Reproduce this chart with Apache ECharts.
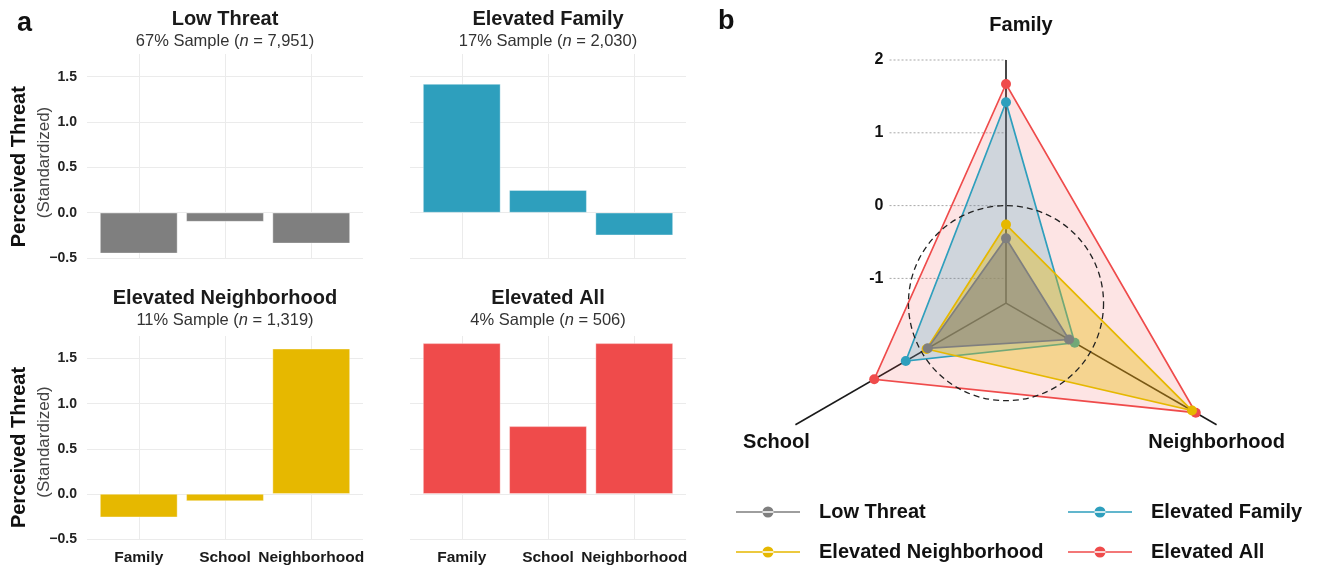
<!DOCTYPE html>
<html>
<head>
<meta charset="utf-8">
<script src="https://cdn.jsdelivr.net/npm/echarts@6/dist/echarts.min.js"></script>
<style>
  html, body { margin: 0; padding: 0; background: #ffffff; }
  #chart { width: 1317px; height: 568px; }
</style>
</head>
<body>
<div id="chart"></div>
<script>
// Threat domains and latent profiles
const domains = ['Family', 'School', 'Neighborhood'];
const profiles = ['Low Threat', 'Elevated Family', 'Elevated Neighborhood', 'Elevated All'];

// Standardized perceived threat per domain (Family, School, Neighborhood)
const lowThreat = [-0.45, -0.10, -0.34];
const elevatedFamily = [1.42, 0.25, -0.25];
const elevatedNeighborhood = [-0.26, -0.08, 1.61];
const elevatedAll = [1.67, 0.75, 1.67];

// Profile sizes
const samplePct = ['67%', '17%', '11%', '4%'];
const sampleN = ['7,951', '2,030', '1,319', '506'];

// Axis ticks
const barTicks = [-0.5, 0, 0.5, 1, 1.5];
const radarTicks = [-1, 0, 1, 2];

const profileValues = [lowThreat, elevatedFamily, elevatedNeighborhood, elevatedAll];
const colors = ['#7f7f7f', '#2e9fbd', '#e6b800', '#ef4b4b'];
const fillAlpha = [0.55, 0.22, 0.37, 0.15];
const FONT = '"Liberation Sans", Arial, Helvetica, sans-serif';

function rgba(hex, a) {
  const n = parseInt(hex.slice(1), 16);
  return `rgba(${(n >> 16) & 255},${(n >> 8) & 255},${n & 255},${a})`;
}

// ---- panel a: faceted bar charts ----
const barGrids = [
  { left: 87, top: 54, width: 276, height: 204 },
  { left: 410, top: 54, width: 276, height: 204 },
  { left: 87, top: 336, width: 276, height: 203 },
  { left: 410, top: 336, width: 276, height: 203 }
];
const catMin = 0.4, catMax = 3.6;
const fmtTick = v => (v < 0 ? '\u2212' + Math.abs(v).toFixed(1) : v.toFixed(1));

const grids = barGrids.map(g => Object.assign({ containLabel: false }, g));
const xAxes = [];
const yAxes = [];
const series = [];

barGrids.forEach((g, k) => {
  const bottomRow = k >= 2;
  const leftCol = k % 2 === 0;
  xAxes.push({
    gridIndex: k, type: 'value', min: catMin, max: catMax,
    axisLine: { show: false },
    axisTick: { show: true, length: 5, customValues: [1, 2, 3], lineStyle: { color: '#ebebeb', width: 1 } },
    axisLabel: {
      show: bottomRow, customValues: [1, 2, 3], margin: 11,
      formatter: v => domains[Math.round(v) - 1] || '',
      fontFamily: FONT, fontWeight: 'bold', fontSize: 15.5, color: '#1a1a1a'
    },
    splitLine: { show: true, lineStyle: { color: '#ebebeb', width: 1 } }
  });
  yAxes.push({
    gridIndex: k, type: 'value', min: -0.5, max: 1.75,
    axisLine: { show: false },
    axisTick: { show: false, customValues: barTicks },
    axisLabel: {
      show: leftCol, customValues: barTicks, margin: 10, formatter: fmtTick,
      fontFamily: FONT, fontWeight: 'bold', fontSize: 14, color: '#222'
    },
    splitLine: { show: true, lineStyle: { color: '#ebebeb', width: 1 } }
  });
  series.push({
    type: 'bar', xAxisIndex: k, yAxisIndex: k, barWidth: '90%', silent: true,
    itemStyle: { color: colors[k], borderColor: 'rgba(255,255,255,0.45)', borderWidth: 0.8 },
    data: domains.map((d, i) => [i + 1, profileValues[k][i]])
  });
});

// ---- panel b: radar profile plot on an equal-scale cartesian grid ----
const radarMin = -1.34, radarMax = 2;
const angles = [90, 210, 330].map(a => a * Math.PI / 180);
const toXY = (v, i) => {
  const r = v - radarMin;
  return [r * Math.cos(angles[i]), radarMin + r * Math.sin(angles[i])];
};
const U = 72.8; // px per unit on both radar axes
const rxMin = -1.6, rxMax = 3.6, ryMin = -4, ryMax = 2.2;
const ryTopPx = 60 - (ryMax - 2) * U;
grids.push({ left: 1006 + rxMin * U, top: ryTopPx, width: (rxMax - rxMin) * U, height: (ryMax - ryMin) * U });
xAxes.push({ gridIndex: 4, type: 'value', min: rxMin, max: rxMax, show: false });
yAxes.push({
  gridIndex: 4, type: 'value', min: ryMin, max: ryMax,
  axisLine: { show: false },
  axisTick: { show: false, customValues: radarTicks },
  splitLine: { show: false },
  axisLabel: {
    customValues: radarTicks, margin: 6, formatter: v => String(v),
    fontFamily: FONT, fontWeight: 'bold', fontSize: 16, color: '#111', padding: [0, 0, 9, 0]
  }
});

// dotted reference lines toward the Family axis
series.push({
  type: 'custom', xAxisIndex: 4, yAxisIndex: 4, silent: true, z: 1, clip: false,
  data: radarTicks.map(t => [0, t]),
  renderItem(params, api) {
    const t = api.value(1);
    const p0 = api.coord([rxMin, t]);
    const p1 = api.coord([0, t]);
    return { type: 'line', shape: { x1: p0[0], y1: p0[1], x2: p1[0], y2: p1[1] },
      style: { stroke: '#a8a8a8', lineWidth: 1, lineDash: [2, 2] } };
  }
});

// spokes and domain names
const nameOffsets = [[15, -35], [-19, 18], [0, 18]];
series.push({
  type: 'custom', xAxisIndex: 4, yAxisIndex: 4, silent: true, z: 2, clip: false,
  data: domains.map((d, i) => [i, 0]),
  renderItem(params, api) {
    const i = api.value(0);
    const c = api.coord([0, radarMin]);
    const e = api.coord(toXY(radarMax, i));
    return { type: 'group', children: [
      { type: 'line', shape: { x1: c[0], y1: c[1], x2: e[0], y2: e[1] },
        style: { stroke: '#1a1a1a', lineWidth: 1.6 } },
      { type: 'text', x: e[0] + nameOffsets[i][0], y: e[1] + nameOffsets[i][1],
        style: { text: domains[i], font: 'bold 20px ' + FONT, fill: '#111', align: 'center', verticalAlign: 'middle' } }
    ] };
  }
});

// profile polygons, drawn from largest to smallest
[3, 1, 2, 0].forEach(k => {
  series.push({
    type: 'custom', name: profiles[k], xAxisIndex: 4, yAxisIndex: 4, silent: true, z: 3, clip: false,
    itemStyle: { color: colors[k] },
    data: [profileValues[k].slice()],
    renderItem(params, api) {
      const pts = domains.map((d, i) => api.coord(toXY(api.value(i), i)));
      return { type: 'group', children: [
        { type: 'polygon', shape: { points: pts },
          style: { fill: rgba(colors[k], fillAlpha[k]), stroke: colors[k], lineWidth: 1.7 } }
      ].concat(pts.map(p => ({ type: 'circle', shape: { cx: p[0], cy: p[1], r: 5 }, style: { fill: colors[k] } }))) };
    }
  });
});

// dashed circle at the sample mean (0)
series.push({
  type: 'custom', xAxisIndex: 4, yAxisIndex: 4, silent: true, z: 4, clip: false,
  data: [[0, 0]],
  renderItem(params, api) {
    const c = api.coord([0, radarMin]);
    const r = api.size([0 - radarMin, 0])[0];
    return { type: 'circle', shape: { cx: c[0], cy: c[1], r: r },
      style: { fill: 'none', stroke: '#222', lineWidth: 1.3, lineDash: [6, 4] } };
  }
});

const legendIcon = 'path://M0,5.2H64V6.8H0Z M26.5,6a5.5,5.5 0 1,0 11,0a5.5,5.5 0 1,0 -11,0Z';
const legendBase = {
  orient: 'vertical', top: 502, height: 66, padding: 0, itemWidth: 64, itemHeight: 12, itemGap: 20,
  selectedMode: false,
  itemStyle: { borderWidth: 0 },
  textStyle: { fontFamily: FONT, fontWeight: 'bold', fontSize: 20, color: '#111', lineHeight: 20, padding: [0, 0, 0, 14] }
};

const titles = barGrids.map((g, k) => ({
  text: profiles[k],
  subtext: `{t|${samplePct[k]} Sample (}{i|n}{t| = ${sampleN[k]})}`,
  left: g.left + g.width / 2, top: k < 2 ? 8 : 287, textAlign: 'center', itemGap: 1, padding: 0,
  textStyle: { fontFamily: FONT, fontWeight: 'bold', fontSize: 20, color: '#1a1a1a', lineHeight: 22 },
  subtextStyle: { rich: {
    t: { fontFamily: FONT, fontSize: 16.5, color: '#333', lineHeight: 20 },
    i: { fontFamily: FONT, fontSize: 16.5, color: '#333', fontStyle: 'italic', lineHeight: 20 }
  } }
}));

const graphics = [
  { type: 'text', x: 17, y: 24, style: { text: 'a', font: 'bold 27px ' + FONT, fill: '#111', verticalAlign: 'middle' } },
  { type: 'text', x: 718, y: 22, style: { text: 'b', font: 'bold 27px ' + FONT, fill: '#111', verticalAlign: 'middle' } }
];
[[166.7, 162.5], [447.5, 442]].forEach(([yMain, ySub]) => {
  graphics.push({ type: 'text', x: 19.5, y: yMain, rotation: Math.PI / 2,
    style: { text: 'Perceived Threat', font: 'bold 20px ' + FONT, fill: '#111', align: 'center', verticalAlign: 'middle' } });
  graphics.push({ type: 'text', x: 44, y: ySub, rotation: Math.PI / 2,
    style: { text: '(Standardized)', font: '17px ' + FONT, fill: '#444', align: 'center', verticalAlign: 'middle' } });
});

const chart = echarts.init(document.getElementById('chart'), null, { renderer: 'canvas' });
chart.setOption({
  animation: false,
  backgroundColor: '#ffffff',
  title: titles,
  grid: grids,
  xAxis: xAxes,
  yAxis: yAxes,
  legend: [
    Object.assign({ left: 736, data: [{ name: profiles[0], icon: legendIcon }, { name: profiles[2], icon: legendIcon }] }, legendBase),
    Object.assign({ left: 1068, data: [{ name: profiles[1], icon: legendIcon }, { name: profiles[3], icon: legendIcon }] }, legendBase)
  ],
  graphic: graphics,
  series: series
});
</script>
</body>
</html>
